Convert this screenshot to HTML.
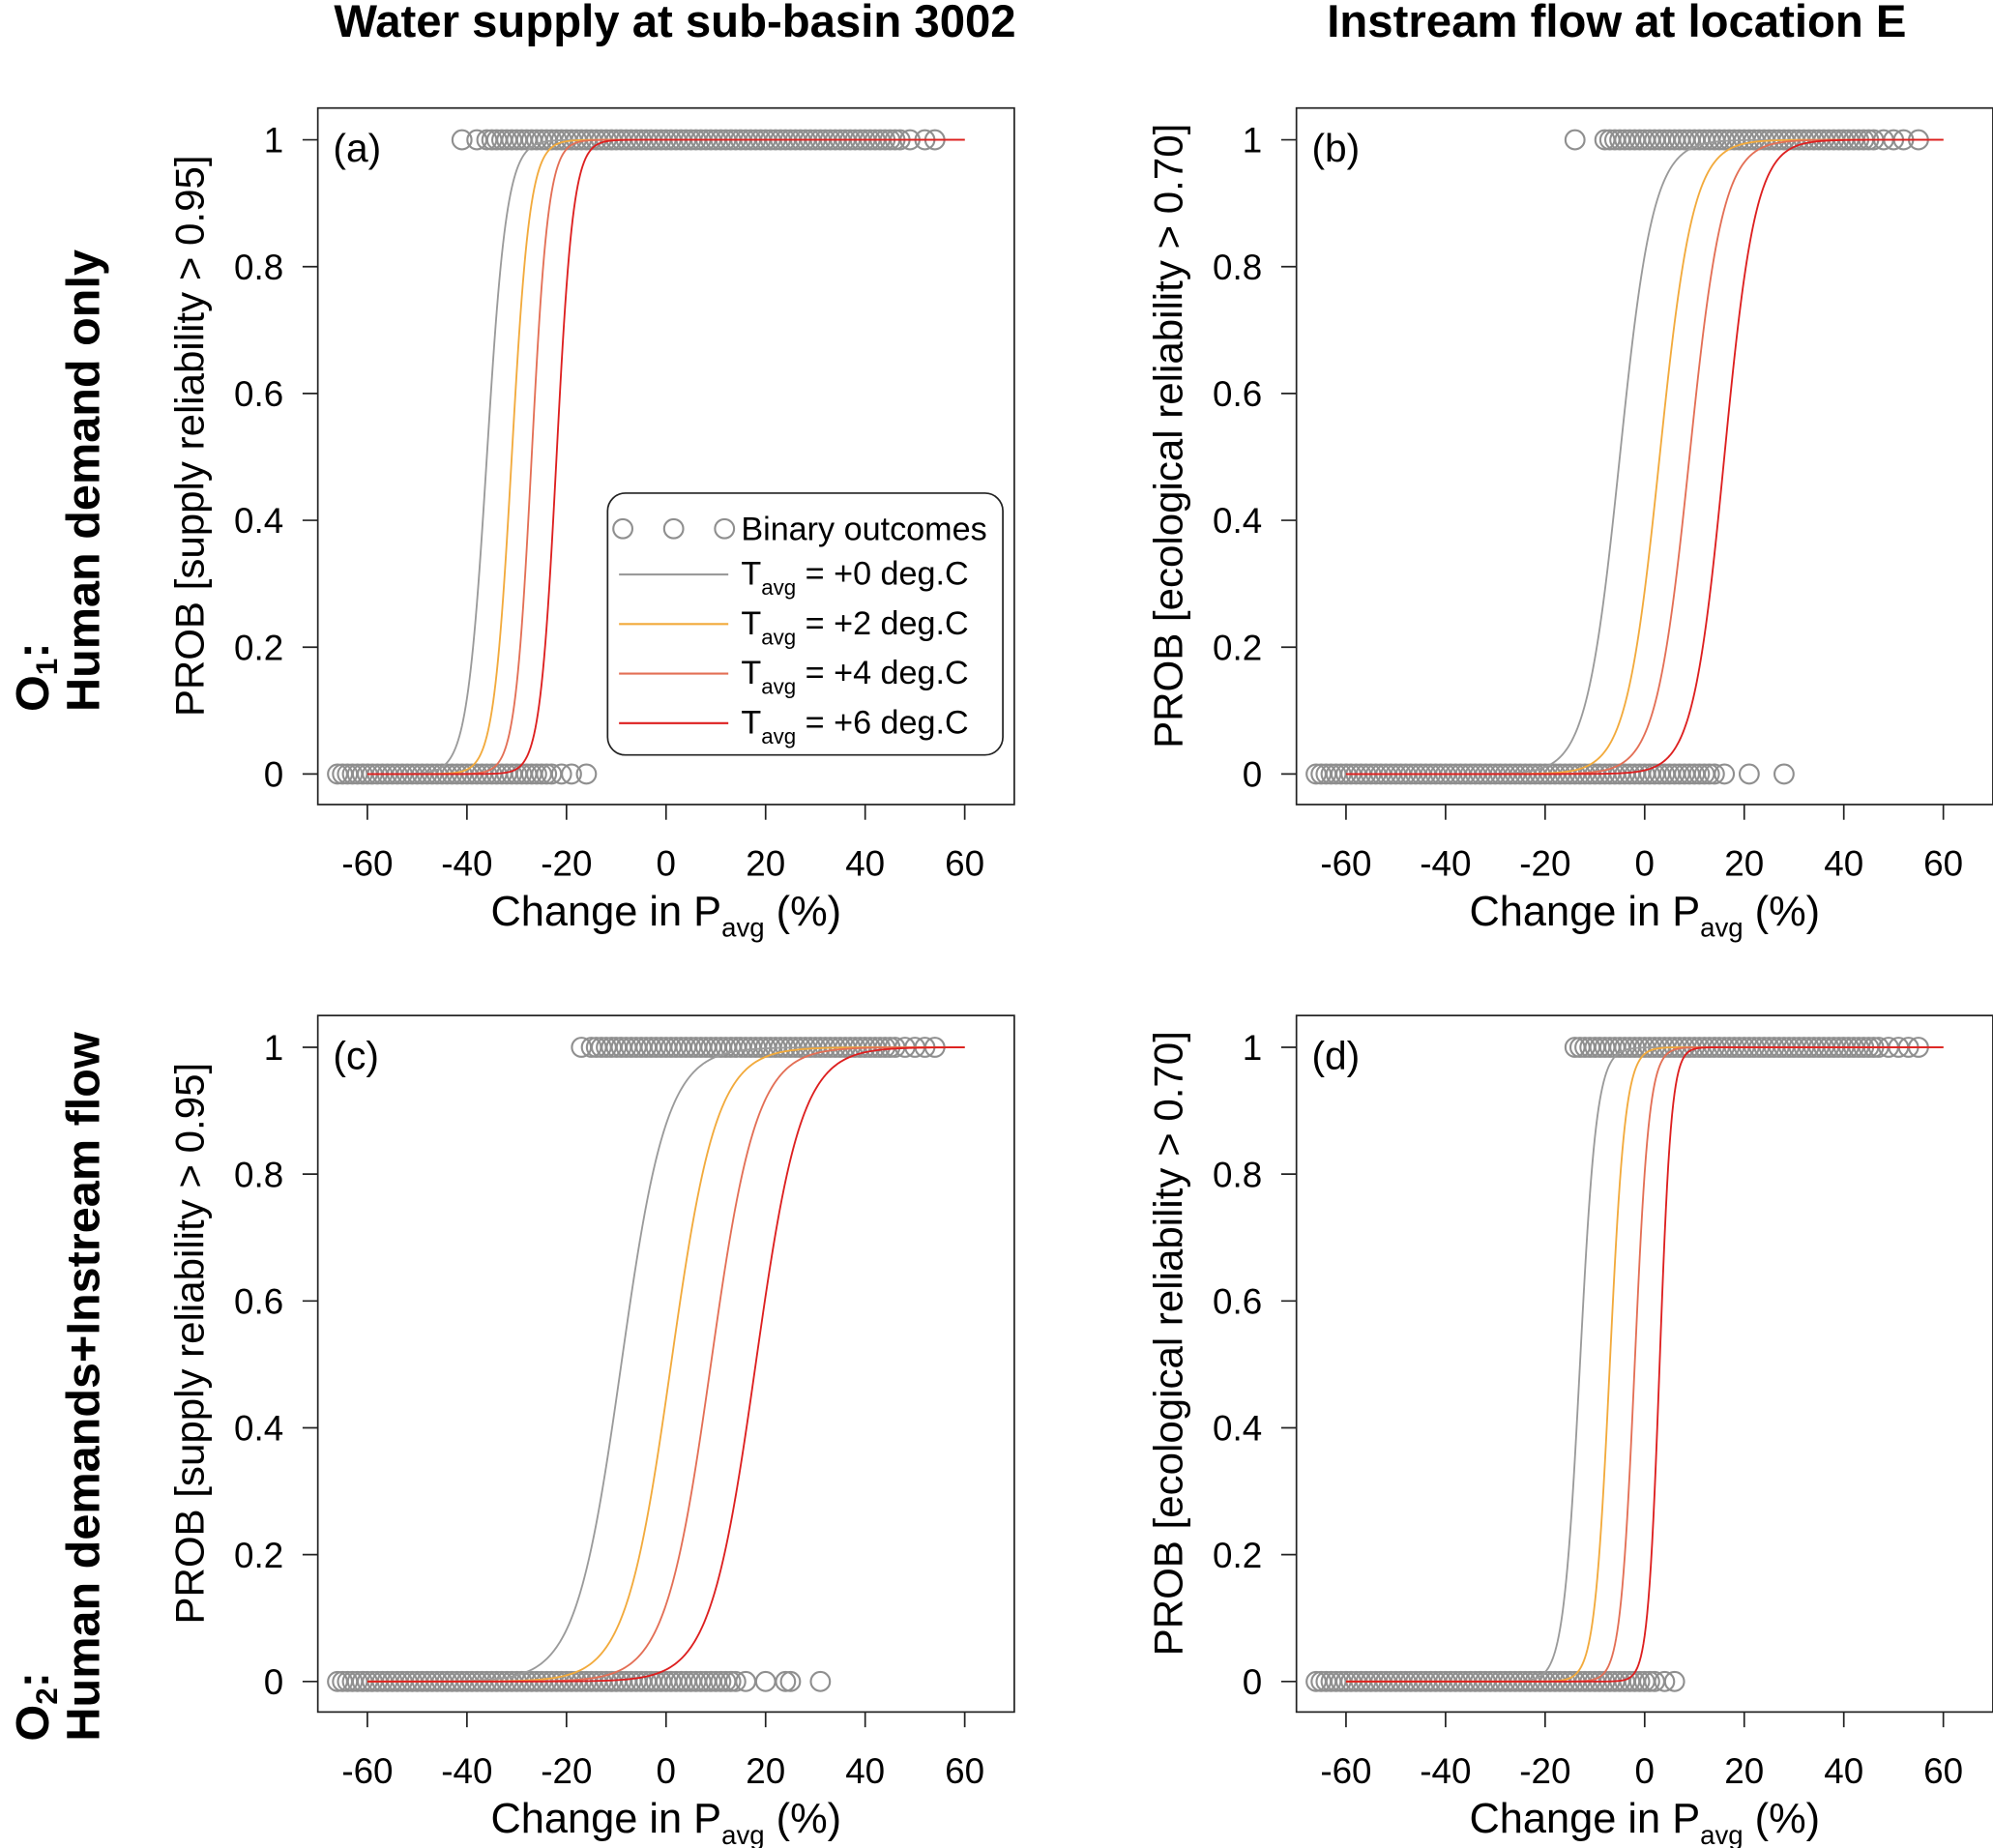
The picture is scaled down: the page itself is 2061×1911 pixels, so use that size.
<!DOCTYPE html>
<html><head><meta charset="utf-8"><style>
html,body{margin:0;padding:0;background:#fff}
svg{display:block;font-family:"Liberation Sans",Arial,sans-serif}
</style></head><body>
<svg id="fig" width="2061" height="1911" viewBox="0 0 1568 1454" xmlns="http://www.w3.org/2000/svg">
<text x="531" y="29" font-size="36" font-weight="bold" text-anchor="middle">Water supply at sub-basin 3002</text>
<text x="1272" y="29" font-size="36" font-weight="bold" text-anchor="middle">Instream flow at location E</text>
<g transform="translate(38,560) rotate(-90)"><text x="0" y="0" font-size="37" font-weight="bold" text-anchor="start">O<tspan font-size="24" dy="7">1</tspan><tspan dy="-7">:</tspan></text><text x="0" y="40" font-size="37" font-weight="bold" text-anchor="start">Human demand only</text></g>
<g transform="translate(38,1370) rotate(-90)"><text x="0" y="0" font-size="37" font-weight="bold" text-anchor="start">O<tspan font-size="24" dy="7">2</tspan><tspan dy="-7">:</tspan></text><text x="0" y="40" font-size="37" font-weight="bold" text-anchor="start">Human demands+Instream flow</text></g>
</svg>
<script>
// data
const xTicks=[-60,-40,-20,0,20,40,60];
const yTicks=[0,0.2,0.4,0.6,0.8,1];
const yTickLabels=["0","0.2","0.4","0.6","0.8","1"];
const tempLabels=["+0","+2","+4","+6"];
const midA=[-36,-31,-27,-22], slopeA=[0.5,0.55,0.6,0.6];
const midB=[-5,3,9,16], slopeB=[0.3,0.3,0.3,0.32];
const midC=[-9,1,9,18], slopeC=[0.22,0.22,0.22,0.22];
const midD=[-13,-7,-2,3], slopeD=[0.6,0.65,0.7,0.85];
const onesA=[-41,-38,-36,-35,-34,-33,-32,-31,-30,-29,-28,-27,-26,-25,-24,-23,-22,-21,-20,-19,-18,-17,-16,-15,-14,-13,-12,-11,-10,-9,-8,-7,-6,-5,-4,-3,-2,-1,0,1,2,3,4,5,6,7,8,9,10,11,12,13,14,15,16,17,18,19,20,21,22,23,24,25,26,27,28,29,30,31,32,33,34,35,36,37,38,39,40,41,42,43,44,45,46,47,49,52,54];
const zerosA=[-66,-65,-64,-63,-62,-61,-60,-59,-58,-57,-56,-55,-54,-53,-52,-51,-50,-49,-48,-47,-46,-45,-44,-43,-42,-41,-40,-39,-38,-37,-36,-35,-34,-33,-32,-31,-30,-29,-28,-27,-26,-25,-24,-23,-21,-19,-16];
const onesB=[-14,-8,-7,-6,-5,-4,-3,-2,-1,0,1,2,3,4,5,6,7,8,9,10,11,12,13,14,15,16,17,18,19,20,21,22,23,24,25,26,27,28,29,30,31,32,33,34,35,36,37,38,39,40,41,42,43,44,45,46,48,50,52,55];
const zerosB=[-66,-65,-64,-63,-62,-61,-60,-59,-58,-57,-56,-55,-54,-53,-52,-51,-50,-49,-48,-47,-46,-45,-44,-43,-42,-41,-40,-39,-38,-37,-36,-35,-34,-33,-32,-31,-30,-29,-28,-27,-26,-25,-24,-23,-22,-21,-20,-19,-18,-17,-16,-15,-14,-13,-12,-11,-10,-9,-8,-7,-6,-5,-4,-3,-2,-1,0,1,2,3,4,5,6,7,8,9,10,11,12,13,14,16,21,28];
const onesC=[-17,-15,-14,-13,-12,-11,-10,-9,-8,-7,-6,-5,-4,-3,-2,-1,0,1,2,3,4,5,6,7,8,9,10,11,12,13,14,15,16,17,18,19,20,21,22,23,24,25,26,27,28,29,30,31,32,33,34,35,36,37,38,39,40,41,42,43,44,45,46,48,50,52,54];
const zerosC=[-66,-65,-64,-63,-62,-61,-60,-59,-58,-57,-56,-55,-54,-53,-52,-51,-50,-49,-48,-47,-46,-45,-44,-43,-42,-41,-40,-39,-38,-37,-36,-35,-34,-33,-32,-31,-30,-29,-28,-27,-26,-25,-24,-23,-22,-21,-20,-19,-18,-17,-16,-15,-14,-13,-12,-11,-10,-9,-8,-7,-6,-5,-4,-3,-2,-1,0,1,2,3,4,5,6,7,8,9,10,11,12,13,14,16,20,24,25,31];
const onesD=[-14,-13,-12,-11,-10,-9,-8,-7,-6,-5,-4,-3,-2,-1,0,1,2,3,4,5,6,7,8,9,10,11,12,13,14,15,16,17,18,19,20,21,22,23,24,25,26,27,28,29,30,31,32,33,34,35,36,37,38,39,40,41,42,43,44,45,46,47,49,51,53,55];
const zerosD=[-66,-65,-64,-63,-62,-61,-60,-59,-58,-57,-56,-55,-54,-53,-52,-51,-50,-49,-48,-47,-46,-45,-44,-43,-42,-41,-40,-39,-38,-37,-36,-35,-34,-33,-32,-31,-30,-29,-28,-27,-26,-25,-24,-23,-22,-21,-20,-19,-18,-17,-16,-15,-14,-13,-12,-11,-10,-9,-8,-7,-6,-5,-4,-3,-2,-1,0,1,2,4,6];

const colors=["#9a9a9a","#f2aa3c","#e36f55","#dd1f1f"];
const NS="http://www.w3.org/2000/svg";
const svg=document.getElementById('fig');
function mk(tag,attrs,parent){const e=document.createElementNS(NS,tag);for(const k in attrs)e.setAttribute(k,attrs[k]);(parent||svg).appendChild(e);return e;}

const panels=[
 {id:'a',bx:250,by:85,mid:midA,k:slopeA,ones:onesA,zeros:zerosA,ylab:'PROB [supply reliability > 0.95]',legend:true},
 {id:'b',bx:1020,by:85,mid:midB,k:slopeB,ones:onesB,zeros:zerosB,ylab:'PROB [ecological reliability > 0.70]'},
 {id:'c',bx:250,by:799,mid:midC,k:slopeC,ones:onesC,zeros:zerosC,ylab:'PROB [supply reliability > 0.95]'},
 {id:'d',bx:1020,by:799,mid:midD,k:slopeD,ones:onesD,zeros:zerosD,ylab:'PROB [ecological reliability > 0.70]'}
];
panels.forEach(p=>{
  const g=mk('g',{});
  
  
  const x0=p.bx+39, y0=p.by+524;
  const xs=v=>x0+(v+60)*470/120;
  const ys=v=>y0-v*499;
  const box=mk('rect',{x:p.bx,y:p.by,width:548,height:548,fill:'none',stroke:'#222','stroke-width':1.3},g);
  
  
  xTicks.forEach(t=>{
    mk('line',{x1:xs(t),x2:xs(t),y1:p.by+548,y2:p.by+560,stroke:'#222','stroke-width':1.3},g);
    const tx=mk('text',{x:xs(t),y:p.by+604,'font-size':28,'text-anchor':'middle'},g);
    tx.textContent=(t<0?'-'+Math.abs(t):t);
    
    
  });
  yTicks.forEach((t,i)=>{
    mk('line',{x1:p.bx,x2:p.bx-12,y1:ys(t),y2:ys(t),stroke:'#222','stroke-width':1.3},g);
    const tx=mk('text',{x:p.bx-27,y:ys(t)+10,'font-size':28,'text-anchor':'end'},g);
    tx.textContent=yTickLabels[i];
    
    
  });
  const xt=mk('text',{x:p.bx+274,y:p.by+643,'font-size':33,'text-anchor':'middle'},g);
  xt.innerHTML='Change in P<tspan font-size="21" dy="9">avg</tspan><tspan dy="-9"> (%)</tspan>';
  
  
  const yt=mk('text',{x:0,y:0,'font-size':32,'text-anchor':'middle',transform:`translate(${p.bx-90},${p.by+258}) rotate(-90)`},g);
  yt.textContent=p.ylab;
  
  
  const lab=mk('text',{x:p.bx+12,y:p.by+42,'font-size':31},g);
  lab.textContent='('+p.id+')';
  
  
  p.ones.forEach(v=>{const c=mk('circle',{cx:xs(v),cy:ys(1),r:7.5,fill:'none',stroke:'#8f8f8f','stroke-width':1.6},g);
    
    });
  p.zeros.forEach(v=>{const c=mk('circle',{cx:xs(v),cy:ys(0),r:7.5,fill:'none',stroke:'#8f8f8f','stroke-width':1.6},g);
    
    });
  p.mid.forEach((m,i)=>{
    let d='';
    for(let v=-60;v<=60.001;v+=0.25){const pr=1/(1+Math.exp(-p.k[i]*(v-m)));d+=(d?'L':'M')+xs(v).toFixed(2)+','+ys(pr).toFixed(2);}
    const pa=mk('path',{d:d,fill:'none',stroke:colors[i],'stroke-width':1.4},g);
    
    
  });
  if(p.legend){
    const lg=mk('g',{},g);
    
    
    mk('rect',{x:478,y:388,width:311,height:206,rx:14,fill:'#fff',stroke:'#222','stroke-width':1.3},lg);
    [490,530,570].forEach(cx=>mk('circle',{cx:cx,cy:416,r:7.5,fill:'none',stroke:'#8f8f8f','stroke-width':1.6},lg));
    const t0=mk('text',{x:583,y:425,'font-size':26},lg);t0.textContent='Binary outcomes';
    tempLabels.forEach((tl,i)=>{
      const y=452+i*39;
      const en=mk('g',{},lg);
      
      
      mk('line',{x1:487,x2:573,y1:y,y2:y,stroke:colors[i],'stroke-width':1.6},en);
      const t=mk('text',{x:583,y:y+8,'font-size':26},en);
      t.innerHTML='T<tspan font-size="17" dy="8">avg</tspan><tspan dy="-8"> = '+tl+' deg.C</tspan>';
    });
  }
});
</script>
</body></html>
